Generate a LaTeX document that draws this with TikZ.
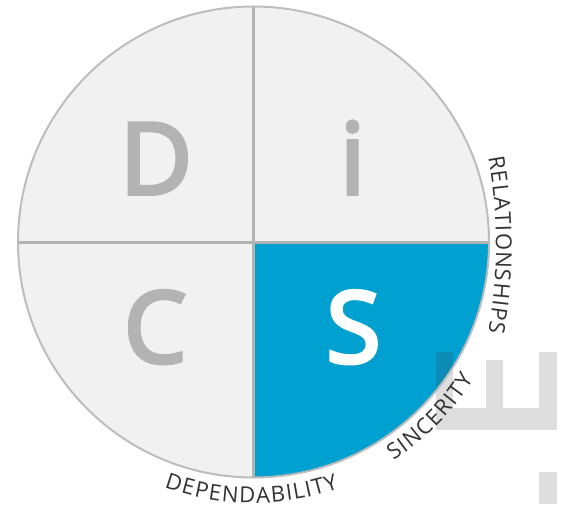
\documentclass[tikz,border=0pt]{standalone}
\usepackage{fontspec}
\setmainfont{Open Sans}
\newfontfamily\bigfont[FakeBold=4]{Open Sans}
\newfontfamily\lblfont{Open Sans}
\usetikzlibrary{decorations.text,calc}
\definecolor{qfill}{HTML}{F1F1F1}
\definecolor{sblue}{HTML}{00A0D0}
\definecolor{sbluedk}{HTML}{0B8BB5}
\definecolor{lgray}{HTML}{B3B3B3}
\definecolor{rimgray}{HTML}{BDBDBD}
\definecolor{egray}{HTML}{DEDEDE}
\definecolor{labelc}{HTML}{333333}
\tikzset{
  bigletter/.style={inner sep=0pt, anchor=base, font=\bigfont\fontsize{99}{99}\selectfont},
  divider/.style={draw=lgray, line width=3pt},
  rim/.style={draw=rimgray, line width=2pt},
  wmark/.style={fill=egray},
}
\newcommand{\lblfmt}{\lblfont\fontsize{22}{22}\selectfont\color{labelc}}
\begin{document}
\begin{tikzpicture}[x=1pt,y=1pt]
\useasboundingbox (0,0) rectangle (561,504);
\coordinate (c) at (253.5,262);
% quadrants
\fill[qfill] (c) circle (235.5);
\fill[sblue] (c) -- ($(c)+(0:235.5)$) arc[start angle=0,end angle=-90,radius=235.5] -- cycle;
% watermark letter shapes
\fill[wmark] (436,74) rectangle (453,152);
\fill[wmark] (436,74) rectangle (557,96);
\fill[wmark] (486,96) rectangle (503,144);
\fill[wmark] (539,96) rectangle (557,152);
\fill[wmark] (539,0) rectangle (557,32);
\begin{scope}
  \clip (c) -- ($(c)+(0:235.5)$) arc[start angle=0,end angle=-90,radius=235.5] -- cycle;
  \fill[sbluedk] (436,74) rectangle (453,152);
\end{scope}
% dividers
\coordinate (vt) at ($(c)+(0,235.5)$);
\coordinate (vb) at ($(c)+(0,-235.5)$);
\coordinate (hl) at ($(c)+(-235.5,0)$);
\coordinate (hr) at ($(c)+(235.5,0)$);
\draw[divider] (vt) -- (vb);
\draw[divider] (hl) -- (hr);
\draw[rim] (c) circle (235.5);
% letters
\node[bigletter, text=lgray] (D) at (156,310) {D};
\node[bigletter, text=lgray] (i) at (352.5,310) {i};
\node[bigletter, text=lgray] (C) at (155,141.5) {C};
\node[bigletter, text=white] (S) at (353.5,141.5) {S};
% curved labels
\coordinate (dep0) at ($(c)+(-110:261)$);
\path[decorate, decoration={text along path, text={|\lblfmt|DEPENDABILITY}, text align=fit to path}]
  (dep0) arc[start angle=-110,end angle=-70.9,radius=261];
\coordinate (sin0) at ($(c)+(-57.4:259.5)$);
\path[decorate, decoration={text along path, text={|\lblfmt|SINCERITY}, text align=fit to path}]
  (sin0) arc[start angle=-57.4,end angle=-32,radius=259.5];
\coordinate (rc) at (-4,259);
\coordinate (rel0) at ($(rc)+(10.1:500)$);
\path[decorate, decoration={text along path, text={|\lblfmt|RELATIONSHIPS}, text align=fit to path}]
  (rel0) arc[start angle=10.1,end angle=-10.1,radius=500];
\end{tikzpicture}
\end{document}
